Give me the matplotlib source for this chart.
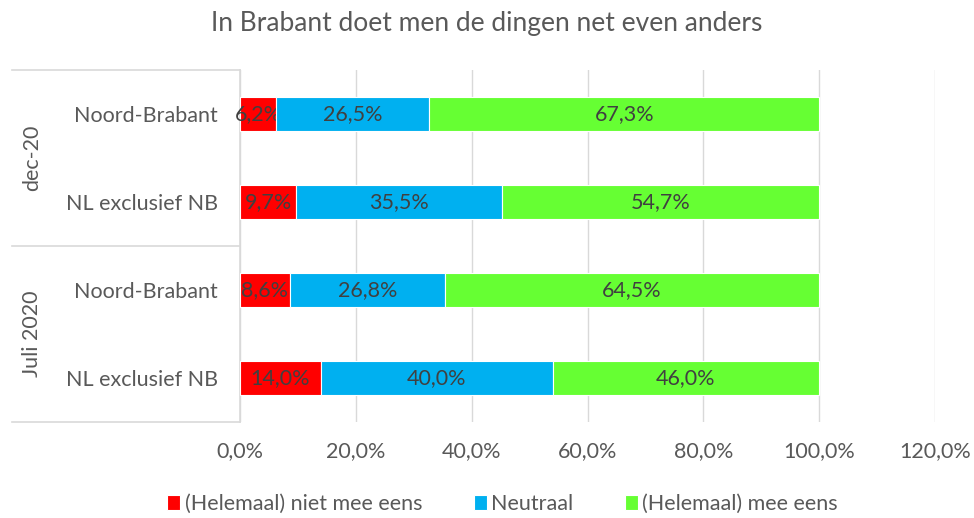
import matplotlib

matplotlib.use("Agg")
import matplotlib.pyplot as plt
import numpy as np

groups = ["dec-20", "Juli 2020"]
categories = ["Noord-Brabant", "NL exclusief NB", "Noord-Brabant", "NL exclusief NB"]
series = ["(Helemaal) niet mee eens", "Neutraal", "(Helemaal) mee eens"]
niet_eens = [6.2, 9.7, 8.6, 14.0]
neutraal = [26.5, 35.5, 26.8, 40.0]
mee_eens = [67.3, 54.7, 64.5, 46.0]
colors = ["#ff0000", "#00b0f0", "#66ff33"]

plt.rcParams["font.family"] = ["Lato", "DejaVu Sans"]
text_c = "#595959"
lab_c = "#404040"
grid_c = "#d9d9d9"
fs = 15.5

fig = plt.figure(figsize=(9.74, 5.18), dpi=100)
ax = fig.add_axes([240 / 974, 96 / 518, 695 / 974, 352 / 518])

y = np.arange(len(categories))
left = np.zeros(len(categories))
for vals, name, c in zip([niet_eens, neutraal, mee_eens], series, colors):
    vals = np.array(vals)
    bars = ax.barh(y, vals, left=left, height=0.39, color=c, label=name,
                   edgecolor="white", linewidth=0.8, zorder=3)
    labels = [f"{v:.1f}%".replace(".", ",") for v in vals]
    ax.bar_label(bars, labels=labels, label_type="center", color=lab_c, fontsize=fs)
    left += vals

ax.set_ylim(len(categories) - 0.5, -0.5)
ax.set_xlim(0, 120)
ax.set_xticks(np.arange(0, 121, 20))
ax.set_xticklabels([f"{t:.1f}%".replace(".", ",") for t in np.arange(0, 121, 20)])
ax.tick_params(axis="x", length=0, colors=text_c, labelsize=fs, pad=14)
ax.grid(axis="x", color=grid_c, linewidth=1, zorder=0)
for s in ["top", "right", "bottom"]:
    ax.spines[s].set_visible(False)
ax.spines["left"].set_color(grid_c)
ax.spines["left"].set_linewidth(1.2)

ax.set_yticks(y)
ax.set_yticklabels(categories)
ax.tick_params(axis="y", length=0, colors=text_c, labelsize=fs, pad=16)

# group separators and labels on the category axis
x0 = (12 - 240) / 695
for yy in [0, 0.5, 1]:
    ax.plot([x0, 0], [yy, yy], transform=ax.transAxes, color=grid_c,
            linewidth=1.2, clip_on=False)
xg = (32 - 240) / 695
for i, g in enumerate(groups):
    ax.text(xg, 0.75 - 0.5 * i, g, transform=ax.transAxes, rotation=90,
            ha="center", va="center", color=text_c, fontsize=fs)

fig.suptitle("In Brabant doet men de dingen net even anders", y=0.978,
             fontsize=19, color=text_c)
fig.legend(loc="center", bbox_to_anchor=(0.516, 0.027), ncol=3, frameon=False,
           fontsize=fs, labelcolor=text_c, handlelength=0.6, handleheight=0.7,
           handletextpad=0.2, columnspacing=2.4)

fig.savefig("out.png", dpi=100)
